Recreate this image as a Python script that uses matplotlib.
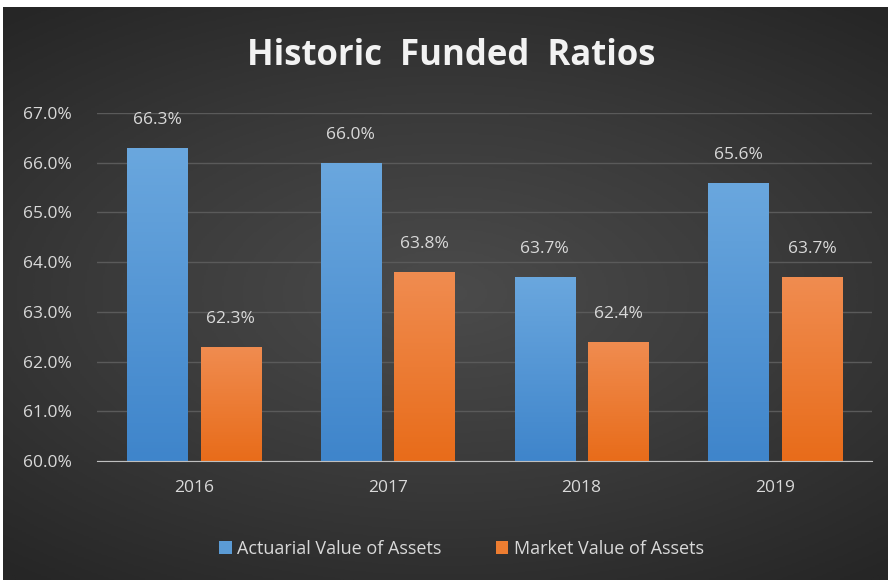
import numpy as np
import matplotlib.pyplot as plt
from matplotlib.colors import LinearSegmentedColormap
from matplotlib.ticker import FuncFormatter

years = ["2016", "2017", "2018", "2019"]
actuarial = [66.3, 66.0, 63.7, 65.6]
market = [62.3, 63.8, 62.4, 63.7]
series_names = ["Actuarial Value of Assets", "Market Value of Assets"]

plt.rcParams['font.family'] = ['Open Sans', 'DejaVu Sans']

fig = plt.figure(figsize=(8.92, 5.8), dpi=100, facecolor='white')

# dark radial background
bg = fig.add_axes([3 / 892, 0, 885 / 892, 573 / 580])
gy, gx = np.mgrid[-1:1:300j, -1:1:460j]
r = np.sqrt((gx * 0.9) ** 2 + (gy * 1.1) ** 2)
bg.imshow(np.clip(r, 0, 1.4), cmap=LinearSegmentedColormap.from_list(
    'bg', ['#4b4b4b', '#3a3a3a', '#262626']), aspect='auto', vmin=0, vmax=1.4)
bg.axis('off')

ax = fig.add_axes([97 / 892, 1 - 461 / 580, 775 / 892, 348 / 580])
ax.patch.set_alpha(0)

x = np.arange(len(years))
w = 0.31
off = 0.19
b1 = ax.bar(x - off, actuarial, w, color='#5b9bd5', zorder=2,
            label=series_names[0])
b2 = ax.bar(x + off, market, w, color='#ed7d31', zorder=2,
            label=series_names[1])

grads = [LinearSegmentedColormap.from_list('b', ['#3f85cb', '#6aa7de']),
         LinearSegmentedColormap.from_list('o', ['#e86c1a', '#f08c50'])]
for bars, cm in zip([b1, b2], grads):
    for p in bars:
        g = np.linspace(0, 1, 100).reshape(-1, 1)
        im = ax.imshow(g, cmap=cm, origin='lower', aspect='auto', zorder=3,
                       extent=[p.get_x(), p.get_x() + p.get_width(), 60, p.get_height()])
        im.set_clip_path(p)
        ax.text(p.get_x() + p.get_width() / 2, p.get_height() + 0.4,
                f"{p.get_height():.1f}%", ha='center', va='bottom',
                color='#d9d9d9', fontsize=12.5)

ax.set_ylim(60, 67)
ax.set_xlim(-0.5, 3.5)
ax.set_yticks(np.arange(60, 67.5, 1))
ax.yaxis.set_major_formatter(FuncFormatter(lambda v, _: f"{v:.1f}%"))
ax.set_xticks(x)
ax.set_xticklabels(years)
ax.tick_params(colors='#d9d9d9', labelsize=12.5, length=0)
ax.tick_params(axis='y', pad=18)
ax.tick_params(axis='x', pad=14)
ax.grid(axis='y', color='#5a5a5a', linewidth=1, zorder=0)
for s in ['top', 'right', 'left']:
    ax.spines[s].set_visible(False)
ax.spines['bottom'].set_color('#bfbfbf')
ax.spines['bottom'].set_zorder(4)

fig.text(0.506, 1 - 56 / 580, "Historic  Funded  Ratios", ha='center', va='center',
         color='#f2f2f2', fontsize=25, fontweight='bold')

leg = ax.legend(loc='upper center', bbox_to_anchor=(0.47, -0.18), ncol=2,
                frameon=False, fontsize=13, handlelength=0.7, handleheight=0.7,
                handletextpad=0.3, columnspacing=3)
for t in leg.get_texts():
    t.set_color('#d9d9d9')

fig.savefig('out.png', dpi=100, facecolor='white')
